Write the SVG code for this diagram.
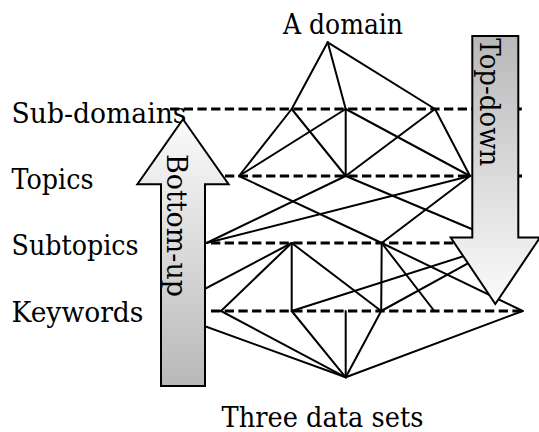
<svg xmlns="http://www.w3.org/2000/svg" width="539" height="432" viewBox="0 0 539 432">
<style>
.lbl{font-family:"DejaVu Serif","Liberation Serif",serif;font-size:27px;fill:#000}
.edge{stroke:#000;stroke-width:2;fill:none;stroke-linecap:round}
.lvl{stroke:#000;stroke-width:2.8;fill:none;stroke-dasharray:9.3 4.4}
.arrow{stroke:#000;stroke-width:2;stroke-linejoin:miter}
</style>
<defs>
<linearGradient id="gUp" x1="0" y1="0" x2="0" y2="1">
<stop offset="0" stop-color="#fbfbfb"/>
<stop offset="1" stop-color="#b8b8b8"/>
</linearGradient>
<linearGradient id="gDown" x1="0" y1="0" x2="0" y2="1">
<stop offset="0" stop-color="#b8b8b8"/>
<stop offset="1" stop-color="#fbfbfb"/>
</linearGradient>
</defs>
<rect width="539" height="432" fill="#fff"/>
<g id="labels">
<g id="lbl-domain"><text class="lbl" x="343" y="34.3" text-anchor="middle" textLength="120" lengthAdjust="spacingAndGlyphs">A domain</text></g>
<g id="lbl-subdomains"><text class="lbl" x="11.5" y="122.5" textLength="175" lengthAdjust="spacingAndGlyphs">Sub-domains</text></g>
<g id="lbl-topics"><text class="lbl" x="11.5" y="189" textLength="82" lengthAdjust="spacingAndGlyphs">Topics</text></g>
<g id="lbl-subtopics"><text class="lbl" x="11.5" y="254.5" textLength="127" lengthAdjust="spacingAndGlyphs">Subtopics</text></g>
<g id="lbl-keywords"><text class="lbl" x="11.5" y="321.7" textLength="132" lengthAdjust="spacingAndGlyphs">Keywords</text></g>
<g id="lbl-datasets"><text class="lbl" x="221.5" y="426.7" textLength="202" lengthAdjust="spacingAndGlyphs">Three data sets</text></g>
</g>
<g id="levels">
<line class="lvl" x1="170" y1="109" x2="522.7" y2="109"/>
<line class="lvl" x1="225" y1="176" x2="522.7" y2="176"/>
<line class="lvl" x1="211" y1="243" x2="505" y2="243"/>
<line class="lvl" x1="211" y1="311" x2="522.7" y2="311"/>
</g>
<g id="connectors">
<line class="edge" x1="327.7" y1="42.3" x2="291.7" y2="109"/>
<line class="edge" x1="327.7" y1="42.3" x2="345.7" y2="109"/>
<line class="edge" x1="327.7" y1="42.3" x2="435" y2="109"/>
<line class="edge" x1="291.7" y1="109" x2="239" y2="176"/>
<line class="edge" x1="291.7" y1="109" x2="345.7" y2="176"/>
<line class="edge" x1="345.7" y1="109" x2="239" y2="176"/>
<line class="edge" x1="345.7" y1="109" x2="345.7" y2="176"/>
<line class="edge" x1="345.7" y1="109" x2="470" y2="176"/>
<line class="edge" x1="435" y1="109" x2="345.7" y2="176"/>
<line class="edge" x1="435" y1="109" x2="470" y2="176"/>
<line class="edge" x1="239" y1="176" x2="381.7" y2="243"/>
<line class="edge" x1="345.7" y1="176" x2="206.5" y2="243"/>
<line class="edge" x1="345.7" y1="176" x2="505" y2="243"/>
<line class="edge" x1="470" y1="176" x2="206.5" y2="243"/>
<line class="edge" x1="470" y1="176" x2="381.7" y2="243"/>
<line class="edge" x1="291.7" y1="243" x2="163" y2="311"/>
<line class="edge" x1="291.7" y1="243" x2="221" y2="311"/>
<line class="edge" x1="291.7" y1="243" x2="291.7" y2="311"/>
<line class="edge" x1="291.7" y1="243" x2="381.2" y2="311"/>
<line class="edge" x1="381.7" y1="243" x2="381.2" y2="311"/>
<line class="edge" x1="381.7" y1="243" x2="434.3" y2="311"/>
<line class="edge" x1="381.7" y1="243" x2="522.7" y2="311"/>
<line class="edge" x1="505" y1="243" x2="291.7" y2="311"/>
<line class="edge" x1="505" y1="243" x2="381.2" y2="311"/>
<line class="edge" x1="345.7" y1="377.3" x2="163" y2="311"/>
<line class="edge" x1="345.7" y1="377.3" x2="221" y2="311"/>
<line class="edge" x1="345.7" y1="377.3" x2="291.7" y2="311"/>
<line class="edge" x1="345.7" y1="377.3" x2="345.7" y2="311"/>
<line class="edge" x1="345.7" y1="377.3" x2="381.2" y2="311"/>
<line class="edge" x1="345.7" y1="377.3" x2="522.7" y2="311"/>
</g>
<g id="arrow-bottom-up">
<polygon class="arrow" fill="url(#gUp)" points="183,119.3 228.6,184.3 205,184.3 205,386 161,386 161,184.3 137.4,184.3"/>
<text class="lbl" transform="translate(167,154) rotate(90)" textLength="143" lengthAdjust="spacingAndGlyphs">Bottom-up</text>
</g>
<g id="arrow-top-down">
<polygon class="arrow" fill="url(#gDown)" points="472.3,36 518.3,36 518.3,237.5 540,237.5 495.3,304 450.7,237.5 472.3,237.5"/>
<text class="lbl" transform="translate(480,38.3) rotate(90)" textLength="128" lengthAdjust="spacingAndGlyphs">Top-down</text>
</g>
</svg>
